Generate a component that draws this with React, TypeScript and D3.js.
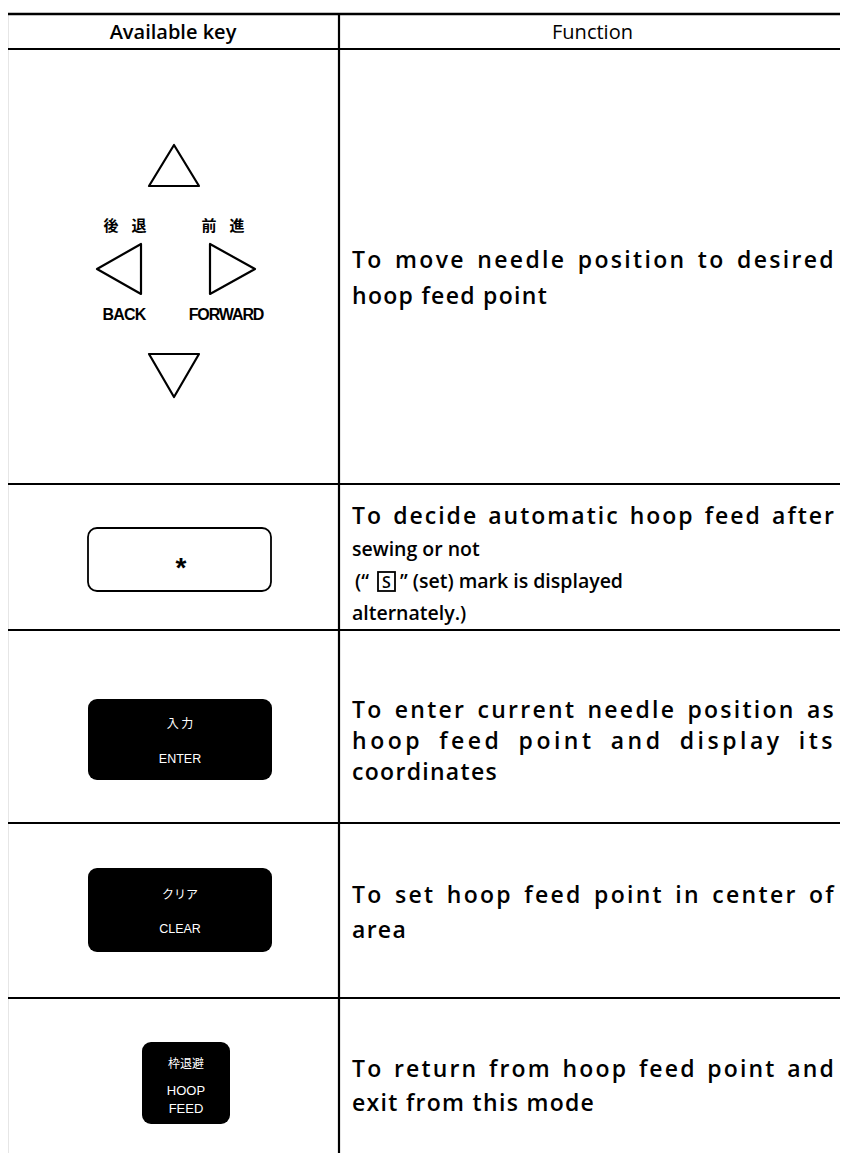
import React from "react";
import * as d3 from "d3";

const headers = ["Available key", "Function"];

const rowKeys = ["arrows", "star", "enter", "clear", "hoop"];

const functionLines: string[][] = [
  ["To move needle position to desired", "hoop feed point"],
  ["To decide automatic hoop feed after", "sewing or not", "", "alternately.)"],
  ["To enter current needle position as", "hoop feed point and display its", "coordinates"],
  ["To set hoop feed point in center of", "area"],
  ["To return from hoop feed point and", "exit from this mode"],
];

const justified: boolean[][] = [
  [true, false],
  [true, false, false, false],
  [true, true, false],
  [true, false],
  [true, false],
];

const markLine = ["(\u201c", "S", "\u201d (set) mark is displayed"];

const arrowJp = ["後", "退", "前", "進"];
const arrowEn = ["BACK", "FORWARD"];
const keyJp = ["入 力", "クリア", "枠退避"];
const keyEn = ["ENTER", "CLEAR", "HOOP", "FEED"];

// row boundaries (index 0 = table top, 1 = header bottom, ...)
const rowEdges = [14, 49, 484, 630, 823, 998, 1161];

const W = 848;
const H = 1161;
const X0 = 7;
const XD = 339;
const XR = 846;

const fontText = "'Open Sans', 'Noto Sans', sans-serif";
const fontKey = "'Liberation Sans', Arial, sans-serif";
const fontJp = "'Noto Sans CJK JP', sans-serif";

let ctx: CanvasRenderingContext2D | null = null;
function measure(text: string, size: number, weight: number, ls: number) {
  if (!ctx) ctx = document.createElement("canvas").getContext("2d");
  if (!ctx) return text.length * size * 0.55;
  ctx.font = `${weight} ${size}px 'Open Sans'`;
  return ctx.measureText(text).width + ls * text.length;
}

export default function App() {
  const c1 = (X0 + XD) / 2;
  const tri = d3.line();

  const textX = 352;
  const textR = 836;

  // baselines of first line per row, and line pitch
  const rowTextStart = [268, 524, 718, 903, 1077];
  const rowLineH = [36, 32, 31, 35, 34];

  const mainSize = 23;
  const mainLS = 1.3;
  const smallSize = 19.5;
  const smallLS = 0;

  return (
    <div style={{ margin: -8 }}>
      <svg width={W} height={H} style={{ display: "block", background: "#fff" }}>
        {/* table borders */}
        <g stroke="#000" strokeWidth={2.2}>
          {rowEdges.slice(0, -1).map((ry, i) => (
            <line key={i} x1={X0} x2={XR} y1={ry} y2={ry} strokeWidth={i === 0 ? 2.6 : 2.2} />
          ))}
          <line x1={X0} x2={X0} y1={rowEdges[0]} y2={H} />
          <line x1={XD} x2={XD} y1={rowEdges[0]} y2={H} />
          <line x1={XR} x2={XR} y1={rowEdges[0]} y2={H} strokeWidth={1.6} />
        </g>
        {/* headers */}
        <text x={c1} y={(rowEdges[0] + rowEdges[1]) / 2 + 7} textAnchor="middle" fontFamily={fontText} fontSize={20} fontWeight={600}>
          {headers[0]}
        </text>
        <text x={(XD + XR) / 2} y={(rowEdges[0] + rowEdges[1]) / 2 + 7} textAnchor="middle" fontFamily={fontText} fontSize={20} fontWeight={500}>
          {headers[1]}
        </text>

        {/* row 1: arrow keys */}
        <g fill="none" stroke="#000" strokeWidth={2.2} strokeLinejoin="round">
          <path d={tri([[174, 145], [149, 186], [199, 186]]) + "Z"} />
          <path d={tri([[97, 269], [141, 244], [141, 294]]) + "Z"} />
          <path d={tri([[255, 269], [210, 244], [210, 294]]) + "Z"} />
          <path d={tri([[149, 354], [199, 354], [174, 397]]) + "Z"} />
        </g>
        <g fontFamily={fontJp} fontSize={15} fontWeight={700} textAnchor="middle">
          <text x={111} y={231}>{arrowJp[0]}</text>
          <text x={139} y={231}>{arrowJp[1]}</text>
          <text x={209} y={231}>{arrowJp[2]}</text>
          <text x={237} y={231}>{arrowJp[3]}</text>
        </g>
        <text x={124} y={320} textAnchor="middle" fontFamily={fontKey} fontSize={16} fontWeight={700} letterSpacing={-0.8}>{arrowEn[0]}</text>
        <text x={226} y={320} textAnchor="middle" fontFamily={fontKey} fontSize={16} fontWeight={700} letterSpacing={-1.1}>{arrowEn[1]}</text>

        {/* row 2: star key */}
        <rect x={88} y={528} width={183} height={63} rx={9} fill="none" stroke="#000" strokeWidth={1.8} />
        <text x={181} y={577} textAnchor="middle" fontFamily={fontKey} fontSize={28} fontWeight={700}>*</text>

        {/* row 3: enter */}
        <rect x={88} y={699} width={184} height={81} rx={9} fill="#000" />
        <text x={180} y={728} textAnchor="middle" fontFamily={fontJp} fontSize={12} fill="#fff">{keyJp[0]}</text>
        <text x={180} y={763} textAnchor="middle" fontFamily={fontKey} fontSize={12.5} fill="#fff">{keyEn[0]}</text>

        {/* row 4: clear */}
        <rect x={88} y={868} width={184} height={84} rx={9} fill="#000" />
        <text x={180} y={899} textAnchor="middle" fontFamily={fontJp} fontSize={12} fill="#fff">{keyJp[1]}</text>
        <text x={180} y={933} textAnchor="middle" fontFamily={fontKey} fontSize={12.5} fill="#fff">{keyEn[1]}</text>

        {/* row 5: hoop feed */}
        <rect x={142} y={1042} width={88} height={82} rx={9} fill="#000" />
        <text x={186} y={1068} textAnchor="middle" fontFamily={fontJp} fontSize={12} fill="#fff">{keyJp[2]}</text>
        <text x={186} y={1095} textAnchor="middle" fontFamily={fontKey} fontSize={13} fill="#fff">{keyEn[2]}</text>
        <text x={186} y={1113} textAnchor="middle" fontFamily={fontKey} fontSize={13} fill="#fff">{keyEn[3]}</text>

        {/* function texts */}
        {functionLines.map((lines, r) => (
          <g key={rowKeys[r]}>
            {lines.map((ln, k) => {
              if (!ln) return null;
              const small = r === 1 && k >= 1;
              const size = small ? smallSize : mainSize;
              let ls = small ? smallLS : mainLS;
              let ws = 0;
              if (justified[r][k]) {
                const nat = measure(ln, size, 600, ls);
                const spaces = ln.split(" ").length - 1;
                const e = (textR - textX - nat) / (ln.length + 3 * spaces);
                ls += e;
                ws = 3 * e;
              }
              return (
                <text
                  key={k}
                  x={textX}
                  y={rowTextStart[r] + k * rowLineH[r]}
                  fontFamily={fontText}
                  fontSize={size}
                  fontWeight={600}
                  letterSpacing={ls}
                  wordSpacing={ws}
                >
                  {ln}
                </text>
              );
            })}
          </g>
        ))}
        {/* row 2, line 3 with boxed S mark */}
        <g fontFamily={fontText} fontSize={smallSize} fontWeight={600} letterSpacing={smallLS}>
          <text x={355} y={588}>{markLine[0]}</text>
          <rect x={378} y={572} width={17} height={19} fill="none" stroke="#000" strokeWidth={1.8} />
          <text x={386.5} y={587.5} textAnchor="middle" fontSize={16}>{markLine[1]}</text>
          <text x={400} y={588}>{markLine[2]}</text>
        </g>
      </svg>
    </div>
  );
}
